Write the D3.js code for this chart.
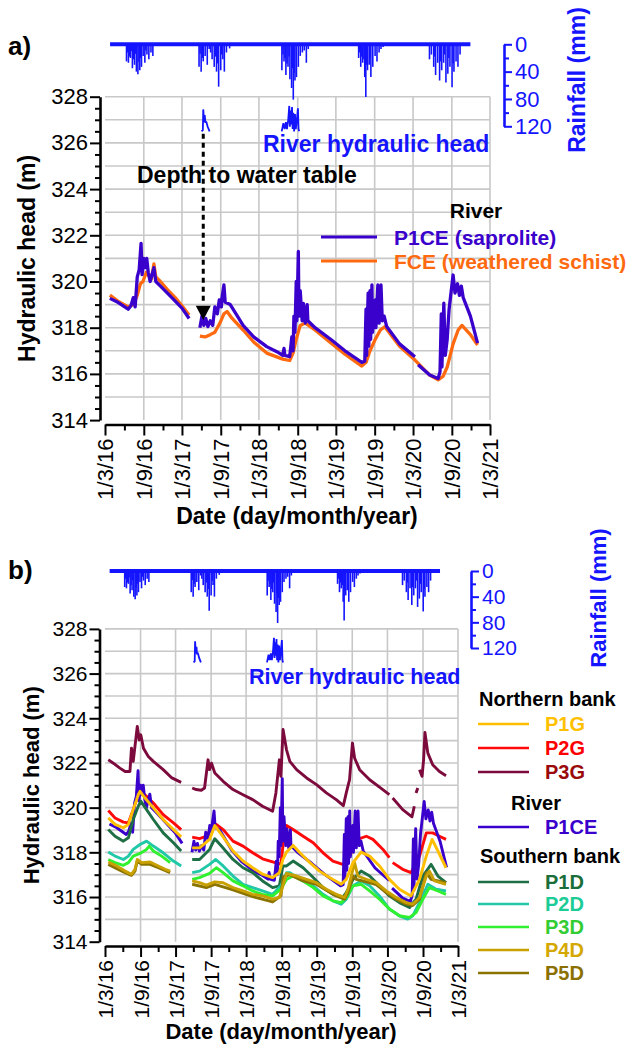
<!DOCTYPE html>
<html><head><meta charset="utf-8">
<script src="https://cdn.jsdelivr.net/npm/d3@7"></script>
<style>
body{margin:0;background:#fff;}
</style></head><body>
<svg id="chart" width="632" height="1046"></svg>
<script>
// ---------------- DATA ----------------
const xTickLabels = ["1/3/16","1/9/16","1/3/17","1/9/17","1/3/18","1/9/18","1/3/19","1/9/19","1/3/20","1/9/20","1/3/21"];
const xMinorTicks = ["1/6/16","1/12/16","1/6/17","1/12/17","1/6/18","1/12/18","1/6/19","1/12/19","1/6/20","1/12/20"];
const yMajorTicks = [314,316,318,320,322,324,326,328];
const yMinorTicks = [314.5,315,315.5,316.5,317,317.5,318.5,319,319.5,320.5,321,321.5,322.5,323,323.5,324.5,325,325.5,326.5,327,327.5];
const yGridValues = [315,316,317,318,319,320,321,322,323,324,325,326,327,328];
const rainMajorTicks = [0,40,80,120];
const rainMinorTicks = [20,60,100];

const RAIN_PERIOD = ["2016-03-25","2020-11-28"];
const RAIN = [
 ["2016-06-11",25],["2016-06-15",12],["2016-06-20",27],["2016-06-25",18],["2016-06-30",20],["2016-07-04",10],["2016-07-09",35],["2016-07-14",22],
 ["2016-07-19",30],["2016-07-23",14],["2016-07-28",40],["2016-08-04",44],["2016-08-09",26],["2016-08-13",38],["2016-08-17",20],["2016-08-21",33],
 ["2016-08-29",17],["2016-09-06",27],["2016-09-11",9],["2016-09-16",15],["2016-09-25",22],["2016-10-05",12],["2016-10-14",17],
 ["2017-05-21",33],["2017-05-26",14],["2017-05-31",40],["2017-06-05",20],["2017-06-10",25],["2017-06-19",17],["2017-06-29",30],["2017-07-08",7],
 ["2017-07-15",12],["2017-07-22",22],["2017-08-01",33],["2017-08-07",18],["2017-08-12",40],["2017-08-17",28],["2017-08-22",62],["2017-09-01",38],
 ["2017-09-06",15],["2017-09-11",22],["2017-09-18",40],["2017-09-28",12],["2017-10-13",6],
 ["2018-06-18",38],["2018-06-23",15],["2018-06-28",25],["2018-07-03",20],["2018-07-07",45],["2018-07-12",28],["2018-07-17",33],["2018-07-22",18],
 ["2018-07-26",51],["2018-08-03",64],["2018-08-07",35],["2018-08-11",81],["2018-08-15",42],["2018-08-19",53],["2018-08-26",48],["2018-09-04",33],
 ["2018-09-13",17],["2018-09-23",12],["2018-10-02",9],["2018-10-12",27],["2018-10-21",7],
 ["2019-06-17",20],["2019-06-22",12],["2019-06-27",33],["2019-07-01",18],["2019-07-06",27],["2019-07-12",22],["2019-07-16",48],["2019-07-21",77],
 ["2019-07-25",30],["2019-07-29",38],["2019-08-06",30],["2019-08-10",20],["2019-08-14",48],["2019-08-23",33],["2019-09-03",17],["2019-09-12",25],
 ["2019-09-22",12],["2019-10-01",7],["2019-10-11",4],
 ["2020-05-18",22],["2020-05-27",15],["2020-06-07",33],["2020-06-12",18],["2020-06-16",45],["2020-06-26",27],["2020-07-05",53],["2020-07-10",25],
 ["2020-07-15",38],["2020-07-24",27],["2020-07-29",15],["2020-08-04",56],["2020-08-13",43],["2020-08-18",20],["2020-08-23",33],["2020-09-02",63],
 ["2020-09-07",28],["2020-09-11",40],["2020-09-21",25],["2020-09-30",33],["2020-10-10",15]
];

const RIVER = [
 ["2017-06-02",326.5],["2017-06-08",326.55],["2017-06-10",327.45],["2017-06-14",326.9],["2017-06-17",327.2],["2017-06-20",326.9],
 ["2017-06-25",326.9],["2017-07-01",326.7],["2017-07-10",326.5],["2017-07-12",null],
 ["2018-06-17",326.5],["2018-06-25",326.85],["2018-07-01",326.6],["2018-07-07",326.9],["2018-07-12",326.6],["2018-07-18",327.0],
 ["2018-07-23",327.6],["2018-07-26",326.7],["2018-07-29",327.4],["2018-08-02",326.8],["2018-08-05",327.55],["2018-08-08",326.6],
 ["2018-08-11",327.3],["2018-08-15",326.5],["2018-08-19",327.25],["2018-08-23",326.6],["2018-08-27",326.9],["2018-09-02",327.5],
 ["2018-09-05",326.6],["2018-09-08",326.5]
];

const P1CE = [
 ["2016-03-24",319.27],["2016-05-01",319.1],["2016-06-19",318.8],["2016-07-02",318.95],["2016-07-13",319.3],["2016-07-22",318.9],
 ["2016-08-01",320.2],["2016-08-10",320.5],["2016-08-19",321.65],["2016-08-24",320.3],["2016-09-01",321.0],["2016-09-08",320.6],
 ["2016-09-15",321.0],["2016-09-22",320.4],["2016-10-01",320.0],["2016-10-10",320.3],["2016-10-19",320.6],["2016-10-28",320.0],
 ["2016-11-19",319.8],["2016-12-22",319.5],["2017-01-28",319.15],["2017-03-01",318.85],["2017-04-04",318.4],["2017-04-20",null],
 ["2017-05-25",318.0],["2017-06-04",318.5],["2017-06-13",318.1],["2017-06-22",318.4],["2017-07-02",318.05],["2017-07-13",318.3],
 ["2017-07-25",318.1],["2017-08-04",318.9],["2017-08-16",318.6],["2017-08-25",319.2],["2017-09-04",318.9],["2017-09-07",319.3],
 ["2017-09-16",319.85],["2017-09-22",319.1],["2017-10-16",319.0],["2017-11-19",318.5],["2017-12-16",318.1],["2018-02-04",317.6],
 ["2018-04-07",317.18],["2018-05-25",316.96],["2018-06-22",316.8],["2018-06-28",317.1],["2018-07-02",316.8],["2018-07-25",316.75],
 ["2018-08-04",317.6],["2018-08-10",317.0],["2018-08-14",318.5],["2018-08-19",317.8],["2018-08-25",320.0],["2018-08-28",318.3],
 ["2018-09-04",321.3],["2018-09-07",318.5],["2018-09-13",319.6],["2018-09-22",318.3],["2018-09-28",319.05],["2018-10-07",318.2],
 ["2018-10-16",319.0],["2018-10-19",318.3],["2018-11-22",318.0],["2019-02-04",317.5],["2019-04-13",317.0],["2019-07-02",316.5],
 ["2019-07-16",316.55],["2019-07-22",318.8],["2019-07-25",316.8],["2019-08-01",319.5],["2019-08-04",317.2],["2019-08-10",319.6],
 ["2019-08-13",317.5],["2019-08-19",319.85],["2019-08-22",317.8],["2019-09-04",319.2],["2019-09-07",318.0],["2019-09-16",319.85],
 ["2019-09-22",318.2],["2019-10-01",319.85],["2019-10-07",318.3],["2019-10-16",318.5],["2019-10-28",318.05],["2019-12-28",317.3],
 ["2020-03-10",316.74],["2020-03-17",null],
 ["2020-03-25",316.4],["2020-05-19",315.95],["2020-06-28",315.8],["2020-07-07",316.1],["2020-07-13",318.6],["2020-07-16",316.3],
 ["2020-07-25",319.06],["2020-08-01",316.8],["2020-08-10",317.5],["2020-08-19",318.8],["2020-08-28",319.5],["2020-09-07",320.28],
 ["2020-09-16",319.5],["2020-09-28",319.9],["2020-10-07",319.4],["2020-10-16",319.8],["2020-10-25",319.3],["2020-11-28",318.5],
 ["2021-01-01",317.33]
];

const FCE = [
 ["2016-03-24",319.41],["2016-05-01",319.15],["2016-06-19",318.9],["2016-07-13",319.0],["2016-08-01",319.4],["2016-08-16",319.9],
 ["2016-08-28",320.0],["2016-09-13",320.4],["2016-09-28",320.2],["2016-10-07",320.1],["2016-10-19",320.76],["2016-10-28",320.2],
 ["2016-11-19",320.0],["2016-12-22",319.65],["2017-01-28",319.3],["2017-03-01",318.95],["2017-04-04",318.55],["2017-04-20",null],
 ["2017-05-25",317.64],["2017-06-19",317.6],["2017-07-13",317.7],["2017-08-04",317.8],["2017-08-28",318.2],["2017-09-16",318.6],
 ["2017-10-01",318.7],["2017-10-25",318.4],["2017-12-16",317.9],["2018-02-04",317.38],["2018-04-07",316.9],["2018-06-22",316.64],
 ["2018-07-25",316.58],["2018-08-10",316.9],["2018-08-25",317.5],["2018-09-13",318.1],["2018-10-07",318.2],["2018-11-22",317.9],
 ["2019-02-04",317.35],["2019-04-13",316.85],["2019-07-02",316.34],["2019-07-22",316.5],["2019-08-10",317.0],["2019-09-04",317.5],
 ["2019-09-28",317.9],["2019-10-19",318.04],["2019-12-28",317.2],["2020-03-10",316.6],["2020-05-19",315.95],["2020-06-28",315.74],
 ["2020-07-22",315.9],["2020-08-10",316.3],["2020-09-07",317.3],["2020-10-01",317.9],["2020-10-19",318.1],["2020-11-28",317.7],
 ["2021-01-01",317.25]
];

const P1G = [
 ["2016-03-18",319.54],["2016-04-22",319.25],["2016-06-04",319.10],["2016-06-30",319.25],["2016-07-25",319.91],["2016-08-20",320.58],
 ["2016-08-29",320.73],["2016-09-24",320.43],["2016-11-06",319.99],["2016-12-27",319.47],["2017-02-18",319.02],["2017-03-30",318.69],
 ["2017-04-20",null],
 ["2017-05-26",318.20],["2017-07-03",318.20],["2017-08-24",318.58],["2017-09-20",319.20],["2017-10-24",318.80],["2017-12-23",318.06],
 ["2018-02-13",317.61],["2018-04-04",317.31],["2018-05-25",317.02],["2018-07-16",316.87],["2018-08-20",317.09],["2018-09-07",317.68],
 ["2018-09-26",318.01],["2018-10-30",318.31],["2018-12-04",317.98],["2019-01-25",317.54],["2019-03-16",317.16],["2019-05-06",316.87],
 ["2019-07-06",316.57],["2019-08-01",316.79],["2019-09-05",317.54],["2019-10-17",318.01],["2019-11-30",317.83],["2020-01-20",317.39],
 ["2020-03-11",316.79],["2020-05-02",316.35],["2020-07-01",316.05],["2020-08-14",316.79],["2020-09-18",317.83],["2020-10-18",318.58],
 ["2020-11-17",318.06],["2020-12-29",317.31]
];

const P2G = [
 ["2016-03-18",319.87],["2016-04-22",319.54],["2016-06-04",319.35],["2016-06-30",319.32],["2016-07-25",319.91],["2016-08-20",320.58],
 ["2016-09-07",320.69],["2016-10-02",320.51],["2016-11-06",320.21],["2016-12-27",319.69],["2017-02-18",319.32],["2017-03-30",319.02],
 ["2017-04-20",null],
 ["2017-05-26",318.68],["2017-07-03",318.61],["2017-08-07",318.72],["2017-09-03",319.10],["2017-09-28",319.25],["2017-11-02",319.02],
 ["2017-12-23",318.50],["2018-02-13",318.28],["2018-04-04",317.98],["2018-05-25",317.71],["2018-07-16",317.57],["2018-08-28",317.46],
 ["2018-09-09",318.40],["2018-09-26",319.20],["2018-10-30",319.02],["2018-12-21",318.72],["2019-02-11",318.43],["2019-04-03",317.98],
 ["2019-05-24",317.61],["2019-07-14",317.46],["2019-08-01",317.54],["2019-09-13",318.28],["2019-10-09",318.61],["2019-11-13",318.72],
 ["2019-12-17",318.58],["2020-02-07",318.13],["2020-03-11",317.76],["2020-03-18",null],
 ["2020-03-28",317.54],["2020-05-19",317.24],["2020-07-01",317.09],["2020-08-14",317.83],["2020-09-18",318.87],["2020-10-21",318.87],
 ["2020-11-25",318.72],["2020-12-29",318.58]
];

const P3G = [
 ["2016-03-18",322.14],["2016-04-13",321.99],["2016-05-17",321.77],["2016-06-13",321.62],["2016-07-08",321.62],["2016-07-16",322.66],
 ["2016-07-25",322.07],["2016-08-03",322.74],["2016-08-15",323.63],["2016-08-25",323.03],["2016-09-02",323.26],["2016-09-16",322.66],
 ["2016-10-11",322.29],["2016-11-06",322.07],["2016-12-27",321.70],["2017-02-10",321.33],["2017-03-30",321.13],["2017-04-20",null],
 ["2017-05-26",320.88],["2017-06-16",320.81],["2017-07-12",320.78],["2017-07-29",320.88],["2017-08-16",322.14],["2017-08-24",321.70],
 ["2017-09-03",321.99],["2017-09-20",321.55],["2017-11-02",321.18],["2017-12-23",320.81],["2018-02-13",320.58],["2018-04-04",320.36],
 ["2018-05-25",320.06],["2018-07-16",319.84],["2018-08-02",320.66],["2018-08-20",322.14],["2018-08-28",321.40],["2018-09-08",323.50],
 ["2018-09-26",322.59],["2018-10-13",322.07],["2018-11-17",321.70],["2019-01-08",321.33],["2019-02-28",321.03],["2019-04-20",320.66],
 ["2019-06-10",320.36],["2019-07-17",320.09],["2019-08-01",320.66],["2019-08-18",321.25],["2019-09-02",322.89],["2019-09-13",322.22],
 ["2019-10-09",321.70],["2019-11-30",321.25],["2020-01-20",320.92],["2020-03-11",320.58],["2020-03-18",null],
 ["2020-03-28",320.43],["2020-05-19",319.91],["2020-07-06",319.59],["2020-07-18",320.06],["2020-07-22",null],
 ["2020-07-27",320.66],["2020-08-05",320.88],["2020-08-09",null],
 ["2020-08-14",321.70],["2020-08-27",321.40],["2020-09-04",322.14],["2020-09-11",323.36],["2020-09-26",322.44],["2020-10-21",321.92],
 ["2020-11-25",321.62],["2020-12-29",321.43]
];

const P1D = [
 ["2016-03-18",319.02],["2016-04-22",318.72],["2016-06-04",318.50],["2016-06-30",318.65],["2016-07-25",319.47],["2016-08-20",320.06],
 ["2016-09-02",320.29],["2016-10-02",319.91],["2016-11-06",319.47],["2016-12-27",318.87],["2017-02-18",318.43],["2017-03-30",318.06],
 ["2017-04-20",null],
 ["2017-05-26",317.68],["2017-07-03",317.68],["2017-08-24",318.13],["2017-09-20",318.61],["2017-10-24",318.28],["2017-12-23",317.68],
 ["2018-02-13",317.31],["2018-04-04",317.09],["2018-05-25",316.72],["2018-07-16",316.42],["2018-08-20",316.50],["2018-09-07",317.39],
 ["2018-09-26",317.39],["2018-10-30",317.61],["2018-12-21",317.31],["2019-02-11",316.87],["2019-04-03",316.42],["2019-05-24",316.12],
 ["2019-07-14",315.98],["2019-08-01",316.20],["2019-09-05",316.79],["2019-10-17",317.16],["2019-11-30",316.94],["2020-01-20",316.50],
 ["2020-03-11",316.05],["2020-05-02",315.75],["2020-06-23",315.53],["2020-07-27",315.90],["2020-08-31",316.94],["2020-10-13",317.46],
 ["2020-11-17",316.94],["2020-12-29",316.64]
];

const P2D = [
 ["2016-03-18",318.01],["2016-04-22",317.83],["2016-06-04",317.68],["2016-06-30",317.83],["2016-07-25",318.13],["2016-08-29",318.35],
 ["2016-10-02",318.50],["2016-11-06",318.28],["2016-12-27",317.98],["2017-02-18",317.61],["2017-03-30",317.39],["2017-04-20",null],
 ["2017-05-26",317.09],["2017-07-03",317.16],["2017-08-24",317.46],["2017-09-25",317.68],["2017-11-02",317.39],["2017-12-23",316.94],
 ["2018-02-13",316.57],["2018-04-04",316.42],["2018-05-25",316.27],["2018-07-16",316.12],["2018-08-28",316.50],["2018-09-26",317.09],
 ["2018-10-13",317.09],["2018-12-04",316.79],["2019-02-11",316.50],["2019-04-03",316.12],["2019-05-24",315.83],["2019-07-06",315.68],
 ["2019-08-01",315.90],["2019-09-05",316.50],["2019-10-17",316.72],["2019-11-30",316.50],["2020-01-20",316.05],["2020-03-11",315.46],
 ["2020-05-02",315.16],["2020-06-14",315.01],["2020-07-10",315.16],["2020-08-22",315.90],["2020-09-26",316.57],["2020-11-08",316.35],
 ["2020-12-29",316.27]
];

const P3D = [
 ["2016-03-18",317.68],["2016-04-22",317.54],["2016-06-04",317.42],["2016-06-30",317.54],["2016-07-25",317.83],["2016-08-29",317.95],
 ["2016-10-02",318.13],["2016-10-16",318.28],["2016-11-06",318.06],["2016-12-19",317.83],["2017-02-01",317.54],["2017-02-20",null],
 ["2017-05-26",316.79],["2017-07-03",316.87],["2017-08-24",317.06],["2017-09-28",317.31],["2017-11-02",317.09],["2017-12-23",316.72],
 ["2018-02-13",316.50],["2018-04-04",316.27],["2018-05-25",316.12],["2018-07-16",316.05],["2018-08-28",316.35],["2018-09-26",316.79],
 ["2018-10-30",316.94],["2018-12-21",316.72],["2019-02-11",316.42],["2019-04-03",316.05],["2019-05-24",315.83],["2019-07-06",315.75],
 ["2019-08-01",315.98],["2019-09-05",316.50],["2019-10-17",316.57],["2019-11-30",316.27],["2020-01-20",315.90],["2020-03-11",315.46],
 ["2020-05-02",315.16],["2020-06-23",315.09],["2020-07-27",315.30],["2020-08-31",315.90],["2020-10-04",316.42],["2020-11-17",316.27],
 ["2020-12-29",316.12]
];

const P4D = [
 ["2016-03-18",317.57],["2016-05-01",317.39],["2016-06-13",317.16],["2016-07-16",317.02],["2016-08-03",317.24],["2016-08-15",317.68],
 ["2016-09-07",317.54],["2016-10-20",317.57],["2016-12-02",317.39],["2017-01-06",317.24],["2017-02-01",317.16],["2017-02-20",null],
 ["2017-05-26",316.72],["2017-07-03",316.64],["2017-08-07",316.53],["2017-09-20",316.68],["2017-11-02",316.64],["2017-12-23",316.42],
 ["2018-02-13",316.27],["2018-04-04",316.12],["2018-05-25",316.05],["2018-07-16",315.90],["2018-08-20",315.98],["2018-09-07",316.50],
 ["2018-09-26",317.06],["2018-11-17",316.94],["2019-01-08",316.79],["2019-02-28",316.64],["2019-04-20",316.35],["2019-06-10",316.12],
 ["2019-07-23",315.98],["2019-08-10",316.35],["2019-09-13",317.54],["2019-09-30",316.94],["2019-11-13",316.79],["2020-01-03",316.64],
 ["2020-02-24",316.27],["2020-04-15",315.98],["2020-06-06",315.75],["2020-07-10",315.68],["2020-08-14",315.98],["2020-09-18",316.94],
 ["2020-10-04",317.16],["2020-10-30",316.72],["2020-12-29",316.57]
];

const P5D = [
 ["2016-03-18",317.46],["2016-05-01",317.27],["2016-06-13",317.09],["2016-07-16",316.97],["2016-08-03",317.16],["2016-08-15",317.61],
 ["2016-09-07",317.46],["2016-10-20",317.46],["2016-12-02",317.31],["2017-02-01",317.09],["2017-02-20",null],
 ["2017-05-26",316.57],["2017-08-07",316.42],["2017-09-20",316.57],["2017-12-23",316.32],["2018-04-04",316.02],["2018-07-16",315.78],
 ["2018-08-28",316.05],["2018-09-09",316.90],["2018-10-13",317.00],["2018-12-21",316.72],["2019-02-28",316.57],["2019-04-20",316.30],
 ["2019-06-10",316.05],["2019-07-23",315.90],["2019-08-10",316.20],["2019-09-05",316.94],["2019-09-22",316.79],["2019-11-13",316.68],
 ["2020-01-03",316.55],["2020-02-24",316.20],["2020-04-15",315.90],["2020-06-06",315.68],["2020-07-10",315.62],["2020-08-14",315.90],
 ["2020-09-18",317.09],["2020-10-13",316.79],["2020-12-29",316.64]
];

// ---------------- DRAWING ----------------
const FONT = "'Liberation Sans', Arial, Helvetica, sans-serif";
const BLUE = "#1414ff";
const COL = {P1CE:"#3a00cc", FCE:"#ff6a10", P1G:"#ffbf00", P2G:"#ff0a0a", P3G:"#7d0a3c",
             P1D:"#1e6e46", P2D:"#20c8a8", P3D:"#30f030", P4D:"#c8a000", P5D:"#8b7300"};
const TXT = {P1G:"#ffc000", P2G:"#ff0000", P3G:"#9a0a0a", P1CE:"#3a00cc", P1D:"#1a6e3a",
             P2D:"#1ccc96", P3D:"#33cc33", P4D:"#d4a800", P5D:"#8b7000"};
const parseD = d3.timeParse("%Y-%m-%d");
const parseT = d3.timeParse("%d/%m/%y");
const svg = d3.select("#chart");

function drawPanel(P) {
  const g = svg.append("g");
  const x = d3.scaleTime().domain([parseT(xTickLabels[0]), parseT(xTickLabels[xTickLabels.length-1])]).range([P.left, P.right]);
  const y = d3.scaleLinear().domain([314, 328]).range([P.bottom, P.top]);
  const yr = d3.scaleLinear().domain([0, 120]).range([P.rainTop, P.rainBottom]);

  // grid
  const grid = g.append("g").attr("stroke", "#c8c8c8").attr("stroke-width", 1.6);
  grid.selectAll(".gy").data(yGridValues).join("line")
    .attr("x1", P.left).attr("x2", P.right).attr("y1", d => y(d)).attr("y2", d => y(d));
  grid.selectAll(".gx").data(xTickLabels.slice(1)).join("line")
    .attr("x1", d => x(parseT(d))).attr("x2", d => x(parseT(d))).attr("y1", P.top).attr("y2", P.bottom);

  // y axis
  const yMinor = g.append("g").attr("transform", `translate(${P.yAxisX},0)`)
    .call(d3.axisLeft(y).tickValues(yMinorTicks).tickSize(5).tickSizeOuter(0).tickFormat(""));
  yMinor.select(".domain").remove();
  const yA = g.append("g").attr("transform", `translate(${P.yAxisX},0)`)
    .call(d3.axisLeft(y).tickValues(yMajorTicks).tickSize(10).tickSizeOuter(0).tickPadding(2).tickFormat(d3.format("d")));
  [yMinor, yA].forEach(a => { a.selectAll(".tick line").attr("stroke", "#000").attr("stroke-width", 2); });
  yA.select(".domain").attr("stroke", "#000").attr("stroke-width", 2.6);
  yA.attr("font-family", FONT).attr("font-size", P.tickFont);
  yA.selectAll("text").attr("fill", "#000");

  // x axis
  const xMinor = g.append("g").attr("transform", `translate(0,${P.xAxisY})`)
    .call(d3.axisBottom(x).tickValues(xMinorTicks.map(parseT)).tickSize(6).tickSizeOuter(0).tickFormat(""));
  xMinor.select(".domain").remove();
  const xA = g.append("g").attr("transform", `translate(0,${P.xAxisY})`)
    .call(d3.axisBottom(x).tickValues(xTickLabels.map(parseT)).tickSize(11).tickSizeOuter(0)
      .tickFormat((d, i) => xTickLabels[i]));
  [xMinor, xA].forEach(a => { a.selectAll(".tick line").attr("stroke", "#000").attr("stroke-width", 2); });
  xA.select(".domain").attr("stroke", "#000").attr("stroke-width", 2.6);
  xA.attr("font-family", FONT).attr("font-size", P.tickFont);
  xA.selectAll("text").attr("fill", "#000").attr("transform", "rotate(-90)")
    .attr("x", -14).attr("y", 0).attr("dy", "0.36em").attr("text-anchor", "end");

  // axis titles
  g.append("text").attr("transform", `translate(${P.yTitleX},${(P.top + P.bottom) / 2}) rotate(-90)`)
    .attr("text-anchor", "middle").attr("dy", "0.35em").attr("font-family", FONT).attr("font-weight", "bold")
    .attr("font-size", P.titleFont).text("Hydraulic head (m)");
  g.append("text").attr("x", P.xTitleX).attr("y", P.xTitleY).attr("text-anchor", "middle")
    .attr("font-family", FONT).attr("font-weight", "bold").attr("font-size", P.titleFont).text("Date (day/month/year)");
  g.append("text").attr("x", 8).attr("y", P.labelY).attr("font-family", FONT).attr("font-weight", "bold")
    .attr("font-size", 26).text(P.label);

  // rainfall
  g.append("line").attr("x1", x(parseD(RAIN_PERIOD[0]))).attr("x2", x(parseD(RAIN_PERIOD[1])))
    .attr("y1", yr(0)).attr("y2", yr(0)).attr("stroke", BLUE).attr("stroke-width", 4);
  g.selectAll(".rain").data(RAIN).join("line")
    .attr("x1", d => x(parseD(d[0]))).attr("x2", d => x(parseD(d[0])))
    .attr("y1", yr(0)).attr("y2", d => yr(d[1])).attr("stroke", BLUE).attr("stroke-width", 1.6);
  const rMinor = g.append("g").attr("transform", `translate(${P.rainAxisX},0)`)
    .call(d3.axisRight(yr).tickValues(rainMinorTicks).tickSize(5).tickSizeOuter(0).tickFormat(""));
  rMinor.select(".domain").remove();
  const rA = g.append("g").attr("transform", `translate(${P.rainAxisX},0)`)
    .call(d3.axisRight(yr).tickValues(rainMajorTicks).tickSize(8).tickSizeOuter(0).tickPadding(3));
  [rMinor, rA].forEach(a => a.selectAll(".tick line").attr("stroke", BLUE).attr("stroke-width", 2));
  rA.select(".domain").attr("stroke", BLUE).attr("stroke-width", 2.6);
  rA.attr("font-family", FONT).attr("font-size", P.tickFont);
  rA.selectAll("text").attr("fill", BLUE);
  g.append("text").attr("transform", `translate(${P.rainTitleX},${P.rainTitleY}) rotate(-90)`)
    .attr("text-anchor", "middle").attr("dy", "0.35em").attr("font-family", FONT).attr("font-weight", "bold")
    .attr("font-size", P.titleFont).attr("fill", BLUE).text("Rainfall (mm)");

  const line = d3.line().defined(d => d[1] != null).x(d => x(parseD(d[0]))).y(d => y(d[1]));

  // river hydraulic head
  g.append("path").datum(RIVER).attr("d", line).attr("fill", "none").attr("stroke", BLUE).attr("stroke-width", 1.8);
  g.append("text").attr("x", P.riverTextX).attr("y", P.riverTextY).attr("font-family", FONT).attr("font-weight", "bold")
    .attr("font-size", P.riverFont).attr("fill", BLUE).text("River hydraulic head");

  return {g, x, y, line};
}

// ---- Panel a ----
const A = drawPanel({left:105, right:490, top:96.7, bottom:420.1, yAxisX:100, xAxisY:424.5,
  rainTop:44.3, rainBottom:126.3, rainAxisX:504, tickFont:22, titleFont:23, yTitleX:27, xTitleX:297, xTitleY:524,
  rainTitleX:577, rainTitleY:80, label:"a)", labelY:55, riverTextX:263, riverTextY:152, riverFont:23});

[["FCE", FCE], ["P1CE", P1CE]].forEach(([k, data]) => {
  A.g.append("path").datum(data).attr("d", A.line).attr("fill", "none").attr("stroke", COL[k])
    .attr("stroke-width", 3.3).attr("stroke-linejoin", "round");
});
// depth to water table annotation
const arrowX = A.x(parseD("2017-06-10"));
A.g.append("line").attr("x1", arrowX).attr("x2", arrowX).attr("y1", A.y(326.4)).attr("y2", A.y(319.0))
  .attr("stroke", "#000").attr("stroke-width", 3).attr("stroke-dasharray", "5,4");
A.g.append("path").attr("d", `M${arrowX - 7.5},${A.y(318.95)} L${arrowX + 7.5},${A.y(318.95)} L${arrowX},${A.y(318.33)} Z`).attr("fill", "#000");
A.g.append("text").attr("x", 137).attr("y", 183).attr("font-family", FONT).attr("font-weight", "bold")
  .attr("font-size", 23).text("Depth to water table");
// legend a
const LA = A.g.append("g").attr("font-family", FONT).attr("font-weight", "bold").attr("font-size", 21);
LA.append("text").attr("x", 476).attr("y", 218).attr("text-anchor", "middle").text("River");
[["P1CE", "P1CE (saprolite)", 237, COL.P1CE], ["FCE", "FCE (weathered schist)", 261, COL.FCE]].forEach(([k, t, yy, c]) => {
  LA.append("line").attr("x1", 321).attr("x2", 377).attr("y1", yy).attr("y2", yy).attr("stroke", c).attr("stroke-width", 3);
  LA.append("text").attr("x", 394).attr("y", yy + 7.5).attr("fill", c).text(t);
});

// ---- Panel b ----
const B = drawPanel({left:105, right:458, top:628.9, bottom:941.7, yAxisX:99.5, xAxisY:946,
  rainTop:571, rainBottom:648, rainAxisX:471, tickFont:21, titleFont:22, yTitleX:31, xTitleX:281, xTitleY:1039,
  rainTitleX:598, rainTitleY:598, label:"b)", labelY:579, riverTextX:249, riverTextY:684, riverFont:21.5});

[["P3G", P3G], ["P2G", P2G], ["P1CE", P1CE], ["P1D", P1D], ["P2D", P2D], ["P3D", P3D], ["P5D", P5D], ["P4D", P4D], ["P1G", P1G]]
  .forEach(([k, data]) => {
    B.g.append("path").datum(data).attr("d", B.line).attr("fill", "none").attr("stroke", COL[k])
      .attr("stroke-width", 2.9).attr("stroke-linejoin", "round");
  });
// legend b
const LB = B.g.append("g").attr("font-family", FONT).attr("font-weight", "bold").attr("font-size", 20);
LB.append("text").attr("x", 479).attr("y", 706).text("Northern bank");
LB.append("text").attr("x", 536).attr("y", 810).attr("text-anchor", "middle").text("River");
LB.append("text").attr("x", 480).attr("y", 863).text("Southern bank");
[["P1G", 724], ["P2G", 748], ["P3G", 772], ["P1CE", 827], ["P1D", 882], ["P2D", 904], ["P3D", 927], ["P4D", 950], ["P5D", 973]]
  .forEach(([k, yy]) => {
    LB.append("line").attr("x1", 478).attr("x2", 529).attr("y1", yy).attr("y2", yy).attr("stroke", COL[k]).attr("stroke-width", 2.6);
    LB.append("text").attr("x", 545).attr("y", yy + 7).attr("fill", TXT[k]).text(k);
  });
</script>
</body></html>
